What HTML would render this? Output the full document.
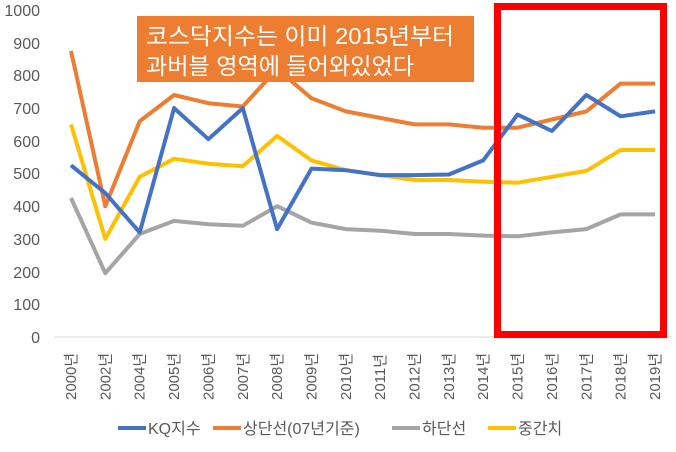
<!DOCTYPE html>
<html><head><meta charset="utf-8"><style>
body{margin:0;background:#fff;}
svg text{font-family:"Liberation Sans","Noto Sans CJK KR",sans-serif;}
</style></head><body>
<svg width="676" height="447" viewBox="0 0 676 447" xmlns="http://www.w3.org/2000/svg">
<g font-size="16" fill="#595959" text-anchor="end">
<text x="40" y="16">1000</text><text x="40" y="49">900</text><text x="40" y="81">800</text><text x="40" y="114">700</text><text x="40" y="147">600</text><text x="40" y="179">500</text><text x="40" y="212">400</text><text x="40" y="245">300</text><text x="40" y="278">200</text><text x="40" y="310">100</text><text x="40" y="343">0</text>
</g>
<line x1="54" y1="337" x2="672" y2="337" stroke="#d9d9d9" stroke-width="1"/>
<g fill="none" stroke-width="4" stroke-linejoin="round">
<polyline id="up" stroke="#ed7d31" points=""/>
<polyline id="lo" stroke="#a5a5a5" points=""/>
<polyline id="mi" stroke="#ffc000" points=""/>
<polyline id="kq" stroke="#4472c4" points=""/>
</g>
<g id="xl" font-size="15" fill="#595959"></g>
<rect x="497.5" y="6.5" width="166" height="328" fill="none" stroke="#ff0000" stroke-width="7"/>
<rect x="137" y="16" width="337" height="66" fill="#ed7d31"/>
<text x="146" y="44" font-size="23" fill="#fff" textLength="308" lengthAdjust="spacingAndGlyphs">코스닥지수는 이미 2015년부터</text>
<text x="146" y="74" font-size="23" fill="#fff" textLength="268" lengthAdjust="spacingAndGlyphs">과버블 영역에 들어와있었다</text>
<g font-size="16" fill="#595959">
<line x1="118" y1="428" x2="146" y2="428" stroke="#4472c4" stroke-width="4"/><text x="148" y="434">KQ지수</text>
<line x1="213" y1="428" x2="241" y2="428" stroke="#ed7d31" stroke-width="4"/><text x="243" y="434">상단선(07년기준)</text>
<line x1="392" y1="428" x2="420" y2="428" stroke="#a5a5a5" stroke-width="4"/><text x="422" y="434">하단선</text>
<line x1="488" y1="428" x2="516" y2="428" stroke="#ffc000" stroke-width="4"/><text x="518" y="434">중간치</text>
</g>
</svg>
<script>
const yrs=["2000","2002","2004","2005","2006","2007","2008","2009","2010","2011","2012","2013","2014","2015","2016","2017","2018","2019"];
const d={kq:[525,440,320,700,605,700,330,515,510,495,495,497,540,680,630,740,675,690],
up:[875,400,660,740,715,705,820,730,690,670,650,650,640,640,665,690,775,775],
lo:[425,195,315,355,345,340,400,350,330,325,315,315,310,308,320,330,375,375],
mi:[650,300,490,545,530,522,615,540,510,495,480,480,475,472,490,508,572,572]};
const X=i=>71+i*34.35,Y=v=>337-v*0.327;
for(const k in d)document.getElementById(k).setAttribute("points",d[k].map((v,i)=>X(i).toFixed(1)+","+Y(v).toFixed(1)).join(" "));
let s="";yrs.forEach((y,i)=>{s+=`<text transform="translate(${X(i)+5},400) rotate(-90)">${y}년</text>`});
document.getElementById("xl").innerHTML=s;
</script>
</body></html>
